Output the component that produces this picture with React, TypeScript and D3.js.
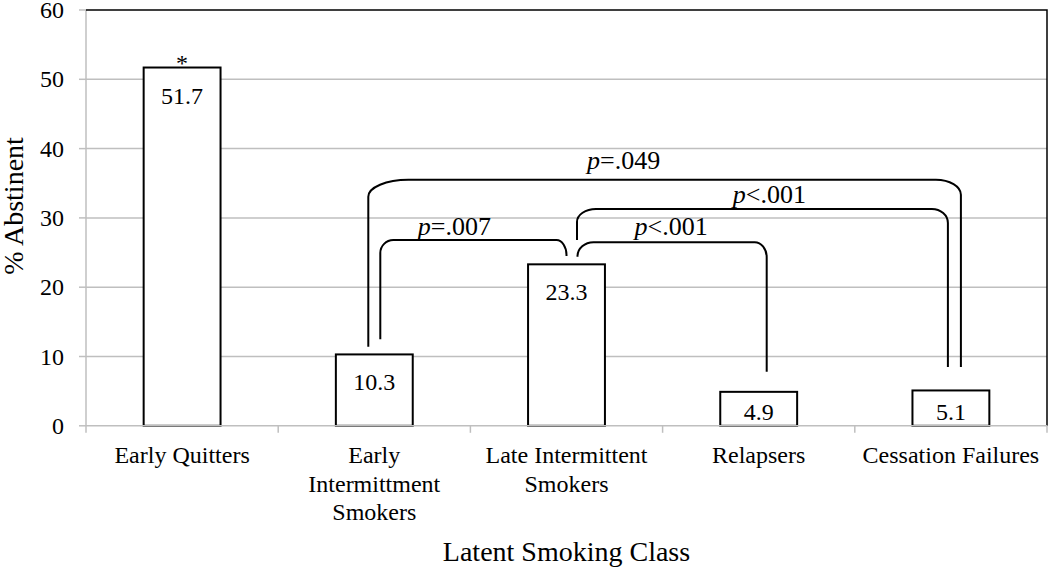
import React, { useEffect, useRef } from "react";
import * as d3 from "d3";

// data
const categories = [
  ["Early Quitters"],
  ["Early", "Intermittment", "Smokers"],
  ["Late Intermittent", "Smokers"],
  ["Relapsers"],
  ["Cessation Failures"],
];
const abstinent = [51.7, 10.3, 23.3, 4.9, 5.1];
const yTicks = [0, 10, 20, 30, 40, 50, 60];

// comparison brackets (category indexes, labels, heights in % units)
const bracketFrom = [1, 2, 1, 2];
const bracketTo = [4, 4, 2, 3];
const bracketLabels = ["=.049", "<.001", "=.007", "<.001"];
const bracketLevels = [35.5, 31.3, 26.8, 26.5];
const bracketLeftEnds = [11.4, 26.8, 12.5, 24.4];
const bracketRightEnds = [8.5, 8.5, 24.5, 7.8];

// drawing styles for the brackets (pixel offsets)
const bracketStyle = [
  { dxL: -6, dxR: 10, rxL: 40, ryL: 17, rxR: 25, ryR: 15, lx: -41, ly: -11 },
  { dxL: 10.5, dxR: -3, rxL: 19, ryL: 13, rxR: 16, ryR: 14, lx: 7, ly: -6 },
  { dxL: 6, dxR: 0, rxL: 13, ryL: 13, rxR: 10, ryR: 15, lx: -19, ly: -5 },
  { dxL: 11, dxR: 8, rxL: 16, ryL: 14, rxR: 12, ryR: 15, lx: -1, ly: -7 },
];

const FONT = "Liberation Serif, Times New Roman, serif";
const GRID = "#bfbfbf";

const App = () => {
  const chartRef = useRef<HTMLDivElement>(null);

  useEffect(() => {
    if (!chartRef.current) return;
    d3.select(chartRef.current).select("svg").remove();
    const width = 1050;
    const height = 569;
    const left = 86;
    const right = 1047;
    const top = 10;
    const bottom = 425.8;

    const svg = d3
      .select(chartRef.current)
      .append("svg")
      .attr("width", width)
      .attr("height", height)
      .attr("font-family", FONT)
      .style("position", "absolute")
      .style("left", 0)
      .style("top", 0);

    const x = d3
      .scaleBand<number>()
      .domain(d3.range(categories.length))
      .range([left, right])
      .paddingInner(0.6)
      .paddingOuter(0.3);
    const y = d3.scaleLinear().domain([0, 60]).range([bottom, top]);
    const cx = (i: number) => (x(i) as number) + x.bandwidth() / 2;
    const step = x.step();

    // gridlines
    svg
      .append("g")
      .selectAll("line")
      .data(yTicks.filter((t) => t > 0 && t < 60))
      .enter()
      .append("line")
      .attr("x1", left)
      .attr("x2", right)
      .attr("y1", (d) => y(d))
      .attr("y2", (d) => y(d))
      .attr("stroke", GRID)
      .attr("stroke-width", 1.5);

    // left axis + ticks
    svg
      .append("line")
      .attr("x1", left)
      .attr("x2", left)
      .attr("y1", top)
      .attr("y2", bottom)
      .attr("stroke", GRID)
      .attr("stroke-width", 1.5);
    const yt = svg.append("g").selectAll("g").data(yTicks).enter().append("g");
    yt.append("line")
      .attr("x1", left - 7)
      .attr("x2", left)
      .attr("y1", (d) => y(d))
      .attr("y2", (d) => y(d))
      .attr("stroke", GRID)
      .attr("stroke-width", 1.5);
    yt.append("text")
      .attr("x", left - 22)
      .attr("y", (d) => y(d) + 8)
      .attr("text-anchor", "end")
      .attr("font-size", 24)
      .text((d) => d);

    // top and right border
    svg
      .append("path")
      .attr("d", `M${left},${top}H${right}V${bottom}`)
      .attr("fill", "none")
      .attr("stroke", "#000")
      .attr("stroke-width", 1.5);

    // bars
    svg
      .append("g")
      .selectAll("rect")
      .data(abstinent)
      .enter()
      .append("rect")
      .attr("x", (d, i) => x(i) as number)
      .attr("y", (d) => y(d))
      .attr("width", x.bandwidth())
      .attr("height", (d) => bottom - y(d))
      .attr("fill", "#fff")
      .attr("stroke", "#000")
      .attr("stroke-width", 2);

    // bottom axis + boundary ticks
    svg
      .append("line")
      .attr("x1", left)
      .attr("x2", right)
      .attr("y1", bottom)
      .attr("y2", bottom)
      .attr("stroke", GRID)
      .attr("stroke-width", 1.5);
    svg
      .append("g")
      .selectAll("line")
      .data(d3.range(categories.length + 1))
      .enter()
      .append("line")
      .attr("x1", (d) => left + d * step)
      .attr("x2", (d) => left + d * step)
      .attr("y1", bottom)
      .attr("y2", bottom + 7)
      .attr("stroke", GRID)
      .attr("stroke-width", 1.5);

    // value labels
    svg
      .append("g")
      .selectAll("text")
      .data(abstinent)
      .enter()
      .append("text")
      .attr("x", (d, i) => cx(i))
      .attr("y", (d) => Math.min(y(d) + 36, bottom - 6))
      .attr("text-anchor", "middle")
      .attr("font-size", 24)
      .text((d) => d.toFixed(1));

    // significance star
    svg
      .append("text")
      .attr("x", cx(0))
      .attr("y", y(abstinent[0]) + 3)
      .attr("text-anchor", "middle")
      .attr("font-size", 24)
      .text("*");

    // category labels
    const cl = svg
      .append("g")
      .selectAll("text")
      .data(categories)
      .enter()
      .append("text")
      .attr("text-anchor", "middle")
      .attr("font-size", 24);
    cl.selectAll("tspan")
      .data((d, i) => d.map((line) => ({ line, i })))
      .enter()
      .append("tspan")
      .attr("x", (d) => cx(d.i))
      .attr("y", (d, j) => 463 + j * 28.5)
      .text((d) => d.line);

    // brackets
    const bg = svg.append("g");
    bracketLabels.forEach((lab, k) => {
      const s = bracketStyle[k];
      const xL = cx(bracketFrom[k]) + s.dxL;
      const xR = cx(bracketTo[k]) + s.dxR;
      const yH = y(bracketLevels[k]);
      const yL = y(bracketLeftEnds[k]);
      const yR = y(bracketRightEnds[k]);
      const path =
        `M${xL},${yL}V${yH + s.ryL}` +
        `C${xL},${yH + s.ryL * 0.45} ${xL + s.rxL * 0.45},${yH} ${xL + s.rxL},${yH}` +
        `H${xR - s.rxR}` +
        `C${xR - s.rxR * 0.45},${yH} ${xR},${yH + s.ryR * 0.45} ${xR},${yH + s.ryR}` +
        `V${yR}`;
      bg.append("path")
        .attr("d", path)
        .attr("fill", "none")
        .attr("stroke", "#000")
        .attr("stroke-width", 2);
      const t = bg
        .append("text")
        .attr("x", (xL + xR) / 2 + s.lx)
        .attr("y", yH + s.ly)
        .attr("text-anchor", "middle")
        .attr("font-size", 26);
      t.append("tspan").attr("font-style", "italic").text("p");
      t.append("tspan").text(lab);
    });

    // axis titles
    svg
      .append("text")
      .attr("transform", `translate(23,206) rotate(-90)`)
      .attr("text-anchor", "middle")
      .attr("font-size", 28)
      .text("% Abstinent");
    svg
      .append("text")
      .attr("x", (left + right) / 2)
      .attr("y", 561)
      .attr("text-anchor", "middle")
      .attr("font-size", 28)
      .text("Latent Smoking Class");
  }, []);

  return <div ref={chartRef}></div>;
};

export default App;
